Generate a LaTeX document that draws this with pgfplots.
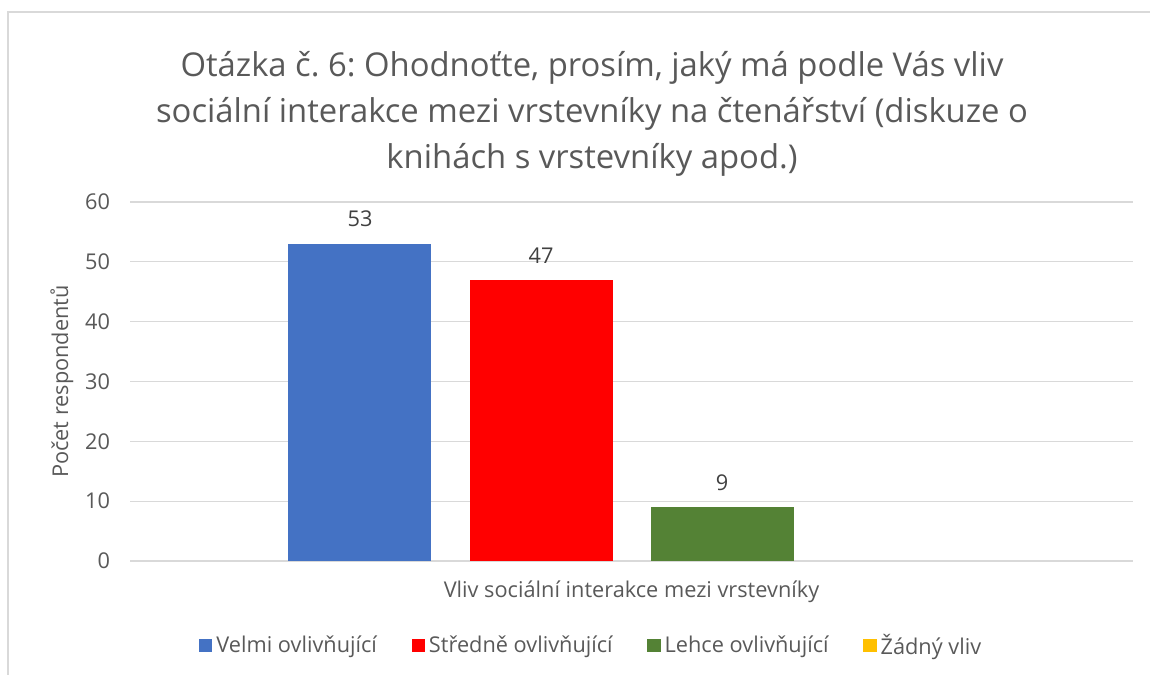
\documentclass[border=0pt]{standalone}
\usepackage{pgfplots}
\pgfplotsset{compat=1.18}
\usepackage{fontspec}
\setmainfont{Open Sans}
\frenchspacing
\definecolor{cblue}{HTML}{4472C4}
\definecolor{cred}{HTML}{FF0000}
\definecolor{cgreen}{HTML}{548235}
\definecolor{cyellow}{HTML}{FFC000}
\definecolor{cgrid}{HTML}{D9D9D9}
\definecolor{ctick}{HTML}{595959}
\definecolor{clab}{HTML}{404040}
\begin{document}
\begin{tikzpicture}[x=0.75pt,y=0.75pt]
\useasboundingbox (0,0) rectangle (1150,675);
\draw[cgrid, line width=1.2pt] (8,-20) -- (8,663) -- (1180,663);
\node[align=center, font=\fontsize{24.6pt}{34.5pt}\selectfont, text=ctick, anchor=center] at (592,561) {Otázka č. 6: Ohodnoťte, prosím, jaký má podle Vás vliv\\sociální interakce mezi vrstevníky na čtenářství (diskuze o\\knihách s vrstevníky apod.)};
\begin{axis}[
  at={(97.5pt,85.5pt)}, anchor=south west,
  scale only axis, width=752.25pt, height=269.25pt,
  xmin=-0.5, xmax=0.5, ymin=0, ymax=60,
  ytick={0,10,...,60},
  xtick={0}, xticklabels={Vliv sociální interakce mezi vrstevníky},
  ymajorgrids, grid style={cgrid, line width=0.9pt},
  axis line style={draw=none}, tick style={draw=none},
  ybar=28.5pt, bar width=107.25pt,
  /pgf/number format/assume math mode=true,
  ticklabel style={font=\fontsize{16.3pt}{19pt}\selectfont, text=ctick},
  yticklabel style={xshift=-11.5pt},
  xticklabel style={yshift=-7pt},
  ylabel={Počet respondentů},
  ylabel style={font=\fontsize{16.3pt}{19pt}\selectfont, text=ctick, yshift=2pt},
  nodes near coords,
  every node near coord/.append style={font=\fontsize{16.3pt}{19pt}\selectfont, text=clab, yshift=9pt},
  legend columns=4,
  legend style={at={(0.4601,-0.235)}, anchor=center, draw=none, fill=none,
    font=\fontsize{16.3pt}{19pt}\selectfont, text=ctick,
    /tikz/every odd column/.append style={column sep=1pt},
    /tikz/every even column/.append style={column sep=24pt}},
]
\addplot[fill=cblue, draw=none, legend image code/.code={\fill[cblue] (0pt,-5pt) rectangle (10pt,5pt);}] coordinates {(0,53)};
\addlegendentry{Velmi ovlivňující}
\addplot[fill=cred, draw=none, legend image code/.code={\fill[cred] (0pt,-5pt) rectangle (10pt,5pt);}] coordinates {(0,47)};
\addlegendentry{Středně ovlivňující}
\addplot[fill=cgreen, draw=none, legend image code/.code={\fill[cgreen] (0pt,-5pt) rectangle (10pt,5pt);}] coordinates {(0,9)};
\addlegendentry{Lehce ovlivňující}
\addplot[fill=cyellow, fill opacity=0, draw=none, nodes near coords={}, legend image code/.code={\fill[cyellow, fill opacity=1] (0pt,-5pt) rectangle (10pt,5pt);}] coordinates {(0,0)};
\addlegendentry{Žádný vliv}
\end{axis}
\end{tikzpicture}
\end{document}
